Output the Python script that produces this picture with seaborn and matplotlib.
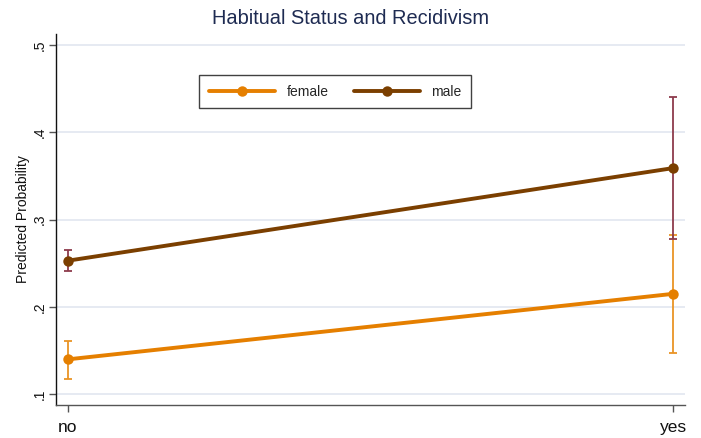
import matplotlib
matplotlib.use("Agg")
import matplotlib.pyplot as plt
import seaborn as sns
import pandas as pd

# Predicted probability of recidivism by habitual status, with 95% CIs
habitual = ["no", "yes"]
female_p = [0.140, 0.215]
female_lo = [0.118, 0.147]
female_hi = [0.161, 0.282]
male_p = [0.253, 0.359]
male_lo = [0.241, 0.278]
male_hi = [0.265, 0.441]
y_ticks = [0.1, 0.2, 0.3, 0.4, 0.5]
y_tick_labels = [".1", ".2", ".3", ".4", ".5"]

line_colors = {"female": "#e57f00", "male": "#7b3f00"}
ci_colors = {"female": "#e99425", "male": "#8e3b4c"}

sns.set_theme(style="white")
plt.rcParams["font.family"] = ["Liberation Sans", "DejaVu Sans"]

rows = []
for i, h in enumerate(habitual):
    rows.append({"pos": i, "sex": "female", "p": female_p[i], "lo": female_lo[i], "hi": female_hi[i]})
    rows.append({"pos": i, "sex": "male", "p": male_p[i], "lo": male_lo[i], "hi": male_hi[i]})
df = pd.DataFrame(rows)

fig = plt.figure(figsize=(7.01, 4.38), dpi=100)
ax = fig.add_axes([56 / 701, 1 - 405 / 438, (685 - 56) / 701, (405 - 34) / 438])

# confidence intervals
for sex in ["female", "male"]:
    sub = df[df["sex"] == sex]
    ax.errorbar(sub["pos"], sub["p"],
                yerr=[sub["p"] - sub["lo"], sub["hi"] - sub["p"]],
                fmt="none", ecolor=ci_colors[sex], elinewidth=1.3,
                capsize=3, capthick=1.3, zorder=2)

sns.lineplot(data=df, x="pos", y="p", hue="sex", hue_order=["female", "male"],
             palette=line_colors, marker="o", markersize=7.5, markeredgewidth=0,
             linewidth=2.8, ax=ax, zorder=3, legend=True)

ax.set_xlim(-0.0198, 1.0198)
ax.set_ylim(0.0877, 0.5126)
ax.set_xticks(range(len(habitual)))
ax.set_xticklabels(habitual, fontsize=12.5, color="#111111")
ax.set_yticks(y_ticks)
ax.set_yticklabels(y_tick_labels, rotation=90, va="center", fontsize=10, color="#111111")

ax.yaxis.grid(True, color="#e1e6f0", linewidth=1.2)
ax.xaxis.grid(False)
ax.set_axisbelow(True)

for side in ["top", "right"]:
    ax.spines[side].set_visible(False)
ax.spines["left"].set_color("#111111")
ax.spines["left"].set_linewidth(1.0)
ax.spines["bottom"].set_color("#555555")
ax.spines["bottom"].set_linewidth(1.0)
ax.tick_params(axis="both", which="both", direction="out", length=5, width=1,
               color="#555555", left=True, bottom=True)
ax.tick_params(axis="x", pad=6)
ax.tick_params(axis="y", pad=1.5)

ax.set_xlabel("")
ax.set_ylabel("Predicted Probability", fontsize=10, color="#111111", labelpad=2)

fig.suptitle("Habitual Status and Recidivism", x=0.5,
             y=1 - 9 / 438, fontsize=14.4, color="#1e2b52", va="top")

handles, labels = ax.get_legend_handles_labels()
leg = fig.legend(handles, labels, ncol=2, loc="upper left",
                 bbox_to_anchor=(199 / 701, 1 - 75 / 438),
                 fontsize=10, frameon=True, fancybox=False,
                 handlelength=4.8, handletextpad=0.8, columnspacing=1.8,
                 borderpad=0.7, borderaxespad=0)
leg.get_frame().set_edgecolor("#111111")
leg.get_frame().set_linewidth(1.0)
if ax.get_legend():
    ax.get_legend().remove()

fig.savefig("out.png", dpi=100, facecolor="white")
